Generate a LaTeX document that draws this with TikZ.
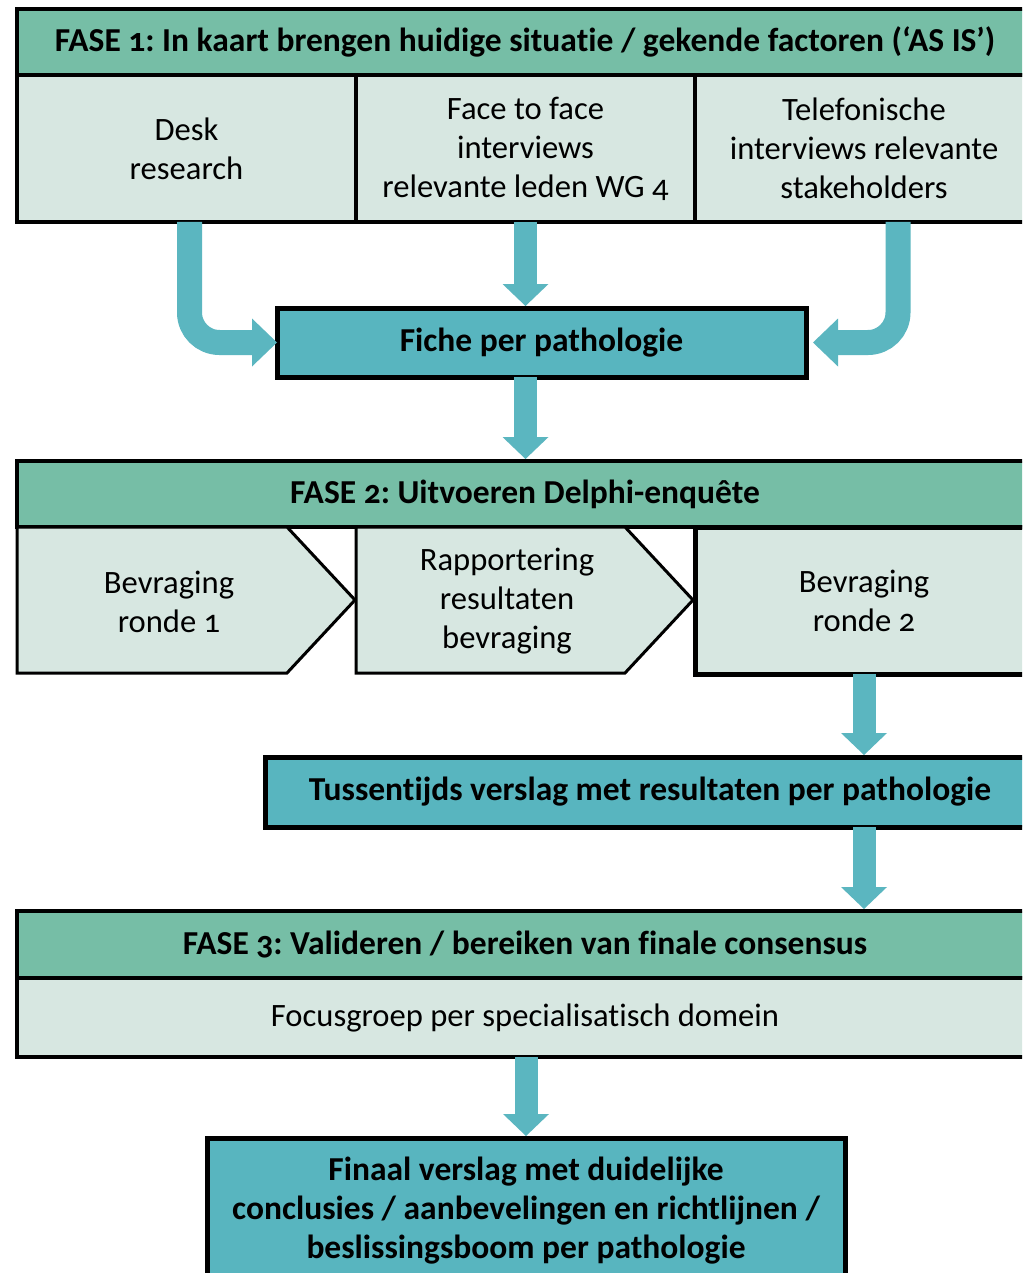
\documentclass[tikz,border=0pt]{standalone}
\usepackage{fontspec}
\setmainfont{Carlito}[Numbers=OldStyle, Ligatures={NoCommon}]
\definecolor{hdrgreen}{RGB}{118,190,166}
\definecolor{lightbg}{RGB}{215,231,225}
\definecolor{tealbox}{RGB}{88,181,191}
\definecolor{arrowc}{RGB}{91,182,192}
\frenchspacing
\begin{document}
\frenchspacing
\begin{tikzpicture}[x=1pt,y=-1pt,
 box/.style={draw=black, line width=4pt, inner sep=0pt, outer sep=0pt, anchor=north west, align=center},
 hdr/.style={box, fill=hdrgreen, font=\fontsize{33.5}{39}\selectfont\bfseries},
 sub/.style={box, fill=lightbg, font=\fontsize{32.6}{39}\selectfont},
 res/.style={box, fill=tealbox, line width=5pt, font=\fontsize{33.5}{39}\selectfont\bfseries},
 chev/.style={draw=black, line width=3pt, fill=lightbg},
 lbl/.style={align=center, inner sep=0pt, font=\fontsize{32.6}{39}\selectfont},
 shaft/.style={draw=arrowc, line width=23pt},
 tip/.style={fill=arrowc},
]
\useasboundingbox (0,0) rectangle (1022,1273);
\clip (0,0) rectangle (1022,1273);
\fill[white] (0,0) rectangle (1022,1273);

% ---- Phase 1
\node[hdr, minimum width=1016pt, minimum height=66pt] (h1) at (17,9)
  {FASE 1: In kaart brengen huidige situatie / gekende factoren (‘AS IS’)};
\node[sub, minimum width=339pt, minimum height=147pt] (desk) at (17,75) {Desk\\research};
\node[sub, minimum width=339pt, minimum height=147pt] (f2f) at (356,75) {Face to face\\interviews\\relevante leden WG 4};
\node[sub, minimum width=338pt, minimum height=147pt] (tel) at (695,75) {Telefonische\\interviews relevante\\stakeholders};

\node[res, minimum width=529pt, minimum height=69pt] (fiche) at (277,308) {Fiche per pathologie};

% arrows phase 1 -> fiche
\draw[shaft, line width=25pt, rounded corners=30pt] ([xshift=3pt]desk.south) |- ([xshift=-24pt]fiche.west);
\fill[tip] (fiche.west) -- ++(-25,-24) -- ++(0,48) -- cycle;
\draw[shaft, line width=25pt, rounded corners=30pt] ([xshift=34pt]tel.south) |- ([xshift=31pt]fiche.east);
\fill[tip] ([xshift=7pt]fiche.east) -- ++(25,-24) -- ++(0,48) -- cycle;
\draw[shaft] (f2f.south) -- ([yshift=21pt]f2f.south |- fiche.north);
\fill[tip] ([yshift=2pt]f2f.south |- fiche.north) -- ++(-23,-22) -- ++(46,0) -- cycle;

% ---- Phase 2
\node[hdr, minimum width=1016pt, minimum height=66pt] (h2) at (17,461) {FASE 2: Uitvoeren Delphi-enquête};
\draw[shaft] (f2f.south |- fiche.south) -- ([yshift=21pt]f2f.south |- h2.north);
\fill[tip] ([yshift=2pt]f2f.south |- h2.north) -- ++(-23,-22) -- ++(46,0) -- cycle;

\draw[chev] (17,527) -- (287,527) -- (355,600) -- (287,673) -- (17,673) -- cycle;
\node[lbl] (b1) at (169,602) {Bevraging\\ronde 1};
\draw[chev] (356,527) -- (625,527) -- (693,600) -- (625,673) -- (356,673) -- cycle;
\node[lbl] (b2) at (507,601) {Rapportering\\resultaten\\bevraging};
\node[sub, minimum width=338pt, minimum height=147pt, line width=5pt] (b3) at (695,527) {Bevraging\\ronde 2};

\node[res, minimum width=770pt, minimum height=70pt] (tuss) at (265,757) {Tussentijds verslag met resultaten per pathologie};
\draw[shaft] (b3.south) -- ([yshift=21pt]b3.south |- tuss.north);
\fill[tip] ([yshift=2pt]b3.south |- tuss.north) -- ++(-23,-22) -- ++(46,0) -- cycle;

% ---- Phase 3
\node[hdr, minimum width=1016pt, minimum height=67pt] (h3) at (17,911) {FASE 3: Valideren / bereiken van finale consensus};
\node[sub, minimum width=1016pt, minimum height=79pt] (focus) at (17,978) {Focusgroep per specialisatisch domein};
\draw[shaft] (tuss.south -| b3.south) -- ([yshift=21pt]b3.south |- h3.north);
\fill[tip] ([yshift=2pt]b3.south |- h3.north) -- ++(-23,-22) -- ++(46,0) -- cycle;

\node[res, minimum width=638pt, minimum height=146pt] (finaal) at (207,1138)
  {Finaal verslag met duidelijke\\conclusies / aanbevelingen en richtlijnen /\\beslissingsboom per pathologie};
\draw[shaft] (finaal.north |- focus.south) -- ([yshift=21pt]finaal.north);
\fill[tip] ([yshift=2pt]finaal.north) -- ++(-23,-22) -- ++(46,0) -- cycle;
\end{tikzpicture}
\end{document}
